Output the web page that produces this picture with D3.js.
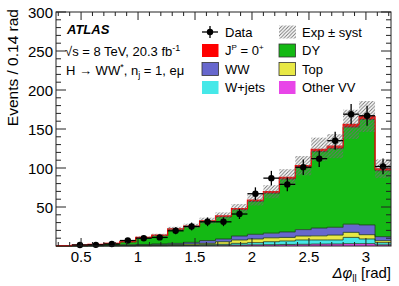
<!DOCTYPE html>
<html>
<head>
<meta charset="utf-8">
<script src="https://cdn.jsdelivr.net/npm/d3@7"></script>
<style>
  body { margin: 0; background: #fff; }
  svg text { font-family: "Liberation Sans", Arial, Helvetica, sans-serif; fill: #000; }
</style>
</head>
<body>
<script>
// bins of 0.14 rad, low edges
var binLow = [0.28,0.42,0.56,0.70,0.84,0.98,1.12,1.26,1.40,1.54,1.68,1.82,1.96,2.10,2.24,2.38,2.52,2.66,2.80,2.94,3.08];
var binWidth = 0.14;

// stack components (bottom to top)
var otherVV  = [0,0,0.1,0.1,0.2,0.3,0.4,0.5,0.6,0.8,1.0,1.2,1.5,1.7,2.0,2.2,2.5,2.6,3.0,3.0,1.5];
var wjets    = [0,0.1,0.1,0.2,0.2,0.3,0.4,0.5,0.7,1.0,1.2,2.2,2.8,3.8,4.4,5.5,5.2,5.1,8.0,6.0,2.8];
var topQuark = [0,0.1,0.2,0.3,0.6,0.7,0.9,1.0,1.3,1.6,3.3,4.3,4.7,5.0,4.6,5.1,5.3,6.3,6.5,5.5,2.5];
var ww       = [0.1,0.1,0.2,0.4,0.5,0.7,1.0,1.4,2.1,3.6,3.5,5.1,6.0,6.0,7.0,8.2,10,10,10.5,12.5,5.2];
var dy       = [0.35,0.8,1.3,2.3,3.7,8.6,10.8,17.9,20.1,24.4,28.3,33.7,42.2,51.1,67.7,79.4,98,100.8,124.4,135.2,84.5];
var signal   = [0.05,0.1,0.1,0.2,0.3,0.4,0.5,0.7,0.8,1.0,1.2,1.5,1.8,2.0,2.3,2.6,3.0,3.2,3.6,3.8,2.5];
var syst     = [0.1,0.2,0.3,0.5,0.7,1.3,1.7,2.6,3,3.9,4.6,5.8,7,8.4,10.5,12.4,14.9,15.4,18.7,19.9,11.9];
var dataVal  = [0,1.3,1.5,2.5,7,10,11,19.5,25,31,31,41,67,87,79,101,112,135,169,167,102];

var xTicks = [0.5,1,1.5,2,2.5,3];
var yTicks = [50,100,150,200,250,300];

var layers = [
  {name: "Other VV", vals: otherVV, color: "#e845e8"},
  {name: "W+jets", vals: wjets, color: "#45e8e8"},
  {name: "Top", vals: topQuark, color: "#e8e845"},
  {name: "WW", vals: ww, color: "#6767cd"},
  {name: "DY", vals: dy, color: "#14b914"},
  {name: "sig", vals: signal, color: "#ff0000"}
];

var W = 399, H = 286;
var margin = {top: 12, right: 8, bottom: 40, left: 56};
var width = W - margin.left - margin.right,
    height = H - margin.top - margin.bottom;

var svg = d3.select("body").append("svg")
    .attr("width", W)
    .attr("height", H);

var defs = svg.append("defs");
defs.append("pattern")
    .attr("id", "hatch")
    .attr("patternUnits", "userSpaceOnUse")
    .attr("width", 3.5).attr("height", 3.5)
  .append("path")
    .attr("d", "M-1,1 l2,-2 M0,3.5 l3.5,-3.5 M2.5,4.5 l2,-2")
    .attr("stroke", "#707070")
    .attr("stroke-width", 0.9);

var g = svg.append("g")
    .attr("transform", "translate(" + margin.left + "," + margin.top + ")");

var x = d3.scaleLinear().domain([0.28, 3.22]).range([0, width]);
var y = d3.scaleLinear().domain([0, 300]).range([height, 0]);

// cumulative stack
var cum = binLow.map(() => 0);
var stacked = layers.map(function (l) {
  var lo = cum.slice();
  cum = cum.map((c, i) => c + l.vals[i]);
  return {layer: l, lo: lo, hi: cum.slice()};
});
var total = cum;

function stepPoints(arr) {
  var pts = [];
  binLow.forEach(function (b, i) {
    pts.push([b, arr[i]]);
    pts.push([b + binWidth, arr[i]]);
  });
  return pts;
}

var area = d3.area()
    .x(d => x(d[0]))
    .y0(d => y(d[1]))
    .y1(d => y(d[2]));
var line = d3.line()
    .x(d => x(d[0]))
    .y(d => y(d[1]));

stacked.forEach(function (s) {
  var pts = [];
  binLow.forEach(function (b, i) {
    pts.push([b, s.lo[i], s.hi[i]]);
    pts.push([b + binWidth, s.lo[i], s.hi[i]]);
  });
  g.append("path")
      .attr("d", area(pts))
      .attr("fill", s.layer.color)
      .attr("stroke", "none");
});
stacked.forEach(function (s) {
  if (s.layer.name === "sig") return;
  g.append("path")
      .attr("d", line(stepPoints(s.hi)))
      .attr("fill", "none")
      .attr("stroke", "#1a3a1a")
      .attr("stroke-width", 0.8);
});
g.append("path")
    .attr("d", line(stepPoints(total)))
    .attr("fill", "none")
    .attr("stroke", "#ff0000")
    .attr("stroke-width", 1.2);

// systematic band
g.selectAll(".band")
    .data(binLow)
    .enter().append("rect")
    .attr("x", d => x(d))
    .attr("width", (d) => x(d + binWidth) - x(d))
    .attr("y", (d, i) => y(total[i] + syst[i]))
    .attr("height", (d, i) => y(total[i] - syst[i]) - y(total[i] + syst[i]))
    .attr("fill", "url(#hatch)");

// data points
var pts = g.selectAll(".pt")
    .data(binLow.map((b, i) => ({c: b + binWidth / 2, v: dataVal[i]})).filter(d => d.v > 0))
    .enter().append("g");
pts.append("line")
    .attr("x1", d => x(d.c - binWidth / 2)).attr("x2", d => x(d.c + binWidth / 2))
    .attr("y1", d => y(d.v)).attr("y2", d => y(d.v))
    .attr("stroke", "#000").attr("stroke-width", 1.3);
pts.append("line")
    .attr("x1", d => x(d.c)).attr("x2", d => x(d.c))
    .attr("y1", d => y(Math.max(0, d.v - Math.sqrt(d.v)))).attr("y2", d => y(Math.min(300, d.v + Math.sqrt(d.v))))
    .attr("stroke", "#000").attr("stroke-width", 1.3);
pts.append("circle")
    .attr("cx", d => x(d.c)).attr("cy", d => y(d.v))
    .attr("r", 3.2).attr("fill", "#000");

// frame + ticks
g.append("rect")
    .attr("width", width).attr("height", height)
    .attr("fill", "none").attr("stroke", "#222").attr("stroke-width", 1);

var yMinor = d3.range(10, 301, 10);
var xMinor = d3.range(3, 33, 1).map(v => v / 10);

var tk = g.append("g").attr("stroke", "#222").attr("stroke-width", 1);
yMinor.forEach(function (v) {
  var L = (v % 50 === 0) ? 10 : 5;
  tk.append("line").attr("x1", 0).attr("x2", L).attr("y1", y(v)).attr("y2", y(v));
  tk.append("line").attr("x1", width).attr("x2", width - L).attr("y1", y(v)).attr("y2", y(v));
});
xMinor.forEach(function (v) {
  var L = (Math.abs(v * 2 - Math.round(v * 2)) < 1e-6) ? 8 : 4;
  tk.append("line").attr("x1", x(v)).attr("x2", x(v)).attr("y1", height).attr("y2", height - L);
  tk.append("line").attr("x1", x(v)).attr("x2", x(v)).attr("y1", 0).attr("y2", L);
});

g.selectAll(".ylab")
    .data(yTicks)
    .enter().append("text")
    .attr("x", -3).attr("y", d => y(d) + 5.5)
    .attr("text-anchor", "end")
    .style("font-size", "15px")
    .text(d => d);
g.selectAll(".xlab")
    .data(xTicks)
    .enter().append("text")
    .attr("x", d => x(d)).attr("y", height + 16)
    .attr("text-anchor", "middle")
    .style("font-size", "15px")
    .text(d => d);

// axis titles
svg.append("text")
    .attr("transform", "translate(17.5,9) rotate(-90)")
    .attr("text-anchor", "end")
    .style("font-size", "15.5px")
    .text("Events / 0.14 rad");

var xt = svg.append("text")
    .attr("x", W - margin.right).attr("y", 278)
    .attr("text-anchor", "end")
    .style("font-size", "15px");
xt.append("tspan").style("font-style", "italic").text("Δφ");
xt.append("tspan").attr("dy", 4).style("font-size", "10px").text("ll");
xt.append("tspan").attr("dy", -4).text(" [rad]");

// ATLAS label
svg.append("text").attr("x", 67).attr("y", 34)
    .style("font-size", "13px").style("font-weight", "bold").style("font-style", "italic")
    .text("ATLAS");
var t2 = svg.append("text").attr("x", 65).attr("y", 56).style("font-size", "13px");
t2.append("tspan").text("√s = 8 TeV, 20.3 fb");
t2.append("tspan").attr("dy", -5).style("font-size", "9px").text("-1");
var t3 = svg.append("text").attr("x", 66).attr("y", 75).style("font-size", "13px");
t3.append("tspan").text("H → WW");
t3.append("tspan").attr("dy", -5).style("font-size", "9px").text("*");
t3.append("tspan").attr("dy", 5).text(", n");
t3.append("tspan").attr("dy", 3).style("font-size", "9px").text("j");
t3.append("tspan").attr("dy", -3).text(" = 1, eμ");

// legend
var legRows = [32, 50.5, 69, 87.5];
var leg = svg.append("g");
// Data
leg.append("line").attr("x1", 202).attr("x2", 218).attr("y1", legRows[0]).attr("y2", legRows[0])
    .attr("stroke", "#000").attr("stroke-width", 1.3);
leg.append("line").attr("x1", 210).attr("x2", 210).attr("y1", legRows[0] - 6).attr("y2", legRows[0] + 6)
    .attr("stroke", "#000").attr("stroke-width", 1.3);
leg.append("circle").attr("cx", 210).attr("cy", legRows[0]).attr("r", 3.2).attr("fill", "#000");
leg.append("text").attr("x", 225).attr("y", legRows[0] + 4.5).style("font-size", "13px").text("Data");
// Exp ± syst
leg.append("rect").attr("x", 279).attr("y", legRows[0] - 6.5).attr("width", 17).attr("height", 13)
    .attr("fill", "url(#hatch)");
leg.append("text").attr("x", 302).attr("y", legRows[0] + 4.5).style("font-size", "13px").text("Exp ± syst");

var legItems = [
  {col: 0, row: 1, color: "#ff0000", label: "sig"},
  {col: 1, row: 1, color: "#14b914", label: "DY"},
  {col: 0, row: 2, color: "#6767cd", label: "WW"},
  {col: 1, row: 2, color: "#e8e845", label: "Top"},
  {col: 0, row: 3, color: "#45e8e8", label: "W+jets"},
  {col: 1, row: 3, color: "#e845e8", label: "Other VV"}
];
legItems.forEach(function (it) {
  var bx = it.col === 0 ? 202 : 279;
  var tx = it.col === 0 ? 225 : 302;
  var cy = legRows[it.row];
  leg.append("rect").attr("x", bx).attr("y", cy - 6.5).attr("width", 16.5).attr("height", 13)
      .attr("fill", it.color)
      .attr("stroke", (it.label === "sig" || it.label === "W+jets" || it.label === "Other VV") ? "none" : "#333")
      .attr("stroke-width", 0.8);
  var t = leg.append("text").attr("x", tx).attr("y", cy + 4.5).style("font-size", "13px");
  if (it.label === "sig") {
    t.append("tspan").text("J");
    t.append("tspan").attr("dy", -5).style("font-size", "8px").text("P");
    t.append("tspan").attr("dy", 5).text(" = 0");
    t.append("tspan").attr("dy", -5).style("font-size", "8px").text("+");
  } else {
    t.text(it.label);
  }
});
</script>
</body>
</html>
